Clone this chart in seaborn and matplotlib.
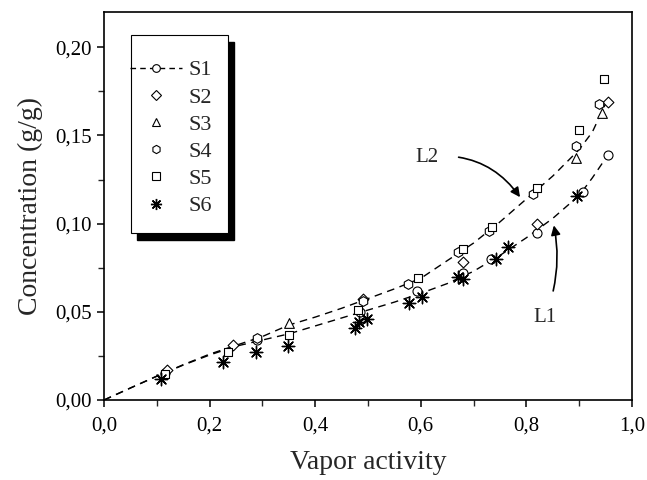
import matplotlib
matplotlib.use("Agg")
import matplotlib.pyplot as plt
from matplotlib.lines import Line2D
from matplotlib.patches import Rectangle
from matplotlib.ticker import MultipleLocator, FuncFormatter
import seaborn as sns

# ---- data ----
s1_x = [0.115, 0.290, 0.485, 0.592, 0.680, 0.733, 0.820, 0.907, 0.955]
s1_y = [0.0155, 0.034, 0.050, 0.062, 0.072, 0.080, 0.0946, 0.118, 0.139]
s2_x = [0.120, 0.245, 0.490, 0.680, 0.820, 0.955]
s2_y = [0.017, 0.031, 0.057, 0.078, 0.0997, 0.169]
s3_x = [0.350, 0.894, 0.943]
s3_y = [0.0436, 0.137, 0.163]
s4_x = [0.290, 0.490, 0.576, 0.670, 0.730, 0.813, 0.894, 0.9375]
s4_y = [0.035, 0.056, 0.066, 0.084, 0.096, 0.117, 0.144, 0.168]
s5_x = [0.116, 0.235, 0.350, 0.481, 0.594, 0.680, 0.735, 0.820, 0.899, 0.947]
s5_y = [0.015, 0.027, 0.037, 0.051, 0.069, 0.0855, 0.098, 0.120, 0.153, 0.182]
s6_x = [0.108, 0.226, 0.288, 0.348, 0.475, 0.483, 0.498, 0.578, 0.602, 0.670, 0.680, 0.742, 0.765, 0.896]
s6_y = [0.012, 0.0215, 0.027, 0.0306, 0.041, 0.044, 0.046, 0.055, 0.0585, 0.0697, 0.0685, 0.080, 0.0867, 0.1156]

curve_x = [0.00, 0.05, 0.10, 0.15, 0.20, 0.25, 0.30, 0.35, 0.40, 0.45, 0.50,
           0.55, 0.60, 0.65, 0.70, 0.75, 0.80, 0.85, 0.90, 0.925, 0.95]
l2_y = [0.000, 0.0068, 0.0135, 0.020, 0.026, 0.031, 0.036, 0.0425, 0.047, 0.052, 0.0575,
        0.063, 0.069, 0.079, 0.089, 0.101, 0.114, 0.127, 0.142, 0.152, 0.168]
l1_y = [0.000, 0.0068, 0.0135, 0.0198, 0.0255, 0.0305, 0.034, 0.0375, 0.042, 0.0465, 0.051,
        0.0555, 0.0605, 0.066, 0.073, 0.082, 0.092, 0.103, 0.116, 0.126, 0.137]

series_names = ["S1", "S2", "S3", "S4", "S5", "S6"]
x_ticks = [0.0, 0.2, 0.4, 0.6, 0.8, 1.0]
y_ticks = [0.00, 0.05, 0.10, 0.15, 0.20]

# ---- style ----
sns.set_theme(style="ticks")
plt.rcParams["font.family"] = ["Liberation Serif", "DejaVu Serif"]
plt.rcParams["axes.linewidth"] = 1.2

fig = plt.figure(figsize=(6.47, 4.80), dpi=100)
ax = fig.add_axes([104 / 647, 1 - 400 / 480, 528 / 647, 388 / 480])

# fitted curves
for cy in (l2_y, l1_y):
    sns.lineplot(x=curve_x, y=cy, ax=ax, color="black", lw=1.0, sort=False)
for ln in ax.lines:
    ln.set_linestyle((0, (5.5, 4)))

markers = {
    "S1": ("o", 6.5),
    "S2": ("D", 5.5),
    "S3": ("^", 7),
    "S4": ("h", 7),
    "S5": ("s", 6),
}
data = {
    "S1": (s1_x, s1_y), "S2": (s2_x, s2_y), "S3": (s3_x, s3_y),
    "S4": (s4_x, s4_y), "S5": (s5_x, s5_y), "S6": (s6_x, s6_y),
}
for name in ["S1", "S2", "S3", "S4", "S5"]:
    m, ms = markers[name]
    xs, ys = data[name]
    sns.scatterplot(x=xs, y=ys, ax=ax, marker=m, s=ms ** 2, facecolor="white",
                    edgecolor="black", linewidth=0.8, zorder=3)
star = (8, 2, 0)
sns.scatterplot(x=s6_x, y=s6_y, ax=ax, marker=star, s=80, color="black",
                linewidth=1.0, zorder=3)

ax.set_xlim(0, 1.0)
ax.set_ylim(0, 0.22)
ax.set_xticks(x_ticks)
ax.set_yticks(y_ticks)
ax.xaxis.set_minor_locator(MultipleLocator(0.1))
ax.yaxis.set_minor_locator(MultipleLocator(0.025))
ax.xaxis.set_major_formatter(FuncFormatter(lambda v, p: f"{v:.1f}".replace(".", ",")))
ax.yaxis.set_major_formatter(FuncFormatter(lambda v, p: f"{v:.2f}".replace(".", ",")))
ax.tick_params(which="major", direction="out", length=5, width=1.1, labelsize=15, colors="black")
ax.tick_params(axis="x", which="major", pad=7)
ax.tick_params(which="minor", direction="out", length=4, width=1.0)
for sp in ax.spines.values():
    sp.set_visible(True)
    sp.set_color("black")
ax.set_xlabel("Vapor activity", fontsize=20, labelpad=10)
ax.set_ylabel("Concentration (g/g)", fontsize=20, labelpad=9)

# annotations
ax.annotate("L2", xy=(0.788, 0.115), xytext=(0.612, 0.1377), fontsize=15,
            ha="center", va="center",
            arrowprops=dict(arrowstyle="-|>", color="black", lw=1.2,
                            connectionstyle="arc3,rad=-0.3", shrinkA=12, shrinkB=0,
                            mutation_scale=14))
ax.annotate("L1", xy=(0.852, 0.099), xytext=(0.835, 0.047), fontsize=15,
            ha="center", va="center",
            arrowprops=dict(arrowstyle="-|>", color="black", lw=1.2,
                            connectionstyle="arc3,rad=0.15", shrinkA=10, shrinkB=0,
                            mutation_scale=14))

# legend box with shadow
bx0, bx1 = 27 / 528, 124 / 528
by1, by0 = (400 - 35) / 388, (400 - 233) / 388
dx, dy = 6 / 528, 7 / 388
ax.add_patch(Rectangle((bx0 + dx, by0 - dy), bx1 - bx0, by1 - by0, transform=ax.transAxes,
                       facecolor="black", edgecolor="black", zorder=6, clip_on=False))
ax.add_patch(Rectangle((bx0, by0), bx1 - bx0, by1 - by0, transform=ax.transAxes,
                       facecolor="white", edgecolor="black", lw=0.8, zorder=6.5, clip_on=False))

handles = []
for name in series_names:
    if name == "S6":
        h = Line2D([], [], ls="none", marker=star, ms=8, color="black", mew=1.0)
    else:
        m, ms = markers[name]
        h = Line2D([], [], ls=(0, (4, 3)) if name == "S1" else "none", lw=1.0,
                   color="black", marker=m, ms=ms * 0.85, mfc="white", mec="black", mew=0.8)
    handles.append(h)
leg = ax.legend(handles, series_names, loc="upper left",
                bbox_to_anchor=(bx0 - 0.001, 0.877), frameon=False,
                fontsize=16, handlelength=2.3, handletextpad=0.33, labelspacing=0.3,
                borderpad=0, borderaxespad=0)
leg.set_zorder(7)

fig.savefig("out.png", dpi=100)
